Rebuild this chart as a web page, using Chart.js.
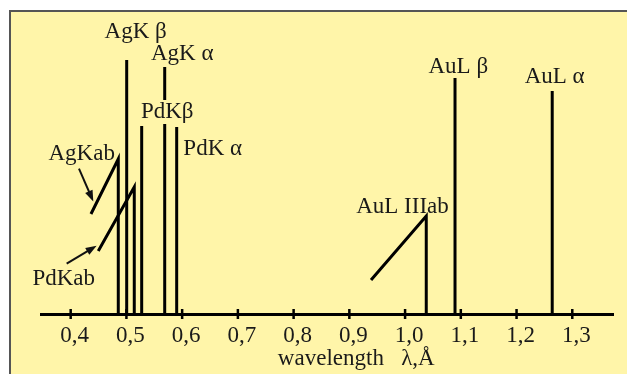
<!DOCTYPE html>
<html>
<head>
<meta charset="utf-8">
<script src="https://cdn.jsdelivr.net/npm/chart.js"></script>
<style>
  html, body { margin: 0; padding: 0; background: #fff5a9; overflow: hidden; }
  #wrap { width: 627px; height: 374px; }
  canvas { display: block; }
</style>
</head>
<body>
<div id="wrap"><canvas id="chart" width="627" height="374"></canvas></div>
<script>
// Emission lines: wavelength (Å) and relative height
const lineNames = ['AgK β', 'AgK α', 'PdKβ', 'PdK α', 'AuL β', 'AuL α'];
const lineWavelengths = [0.5005, 0.5687, 0.5274, 0.5902, 1.0896, 1.264];
const lineHeights = [254, 247, 188, 187, 236, 223];

// Absorption edges: edge position + height, and where the slanted tail ends
const edgeNames = ['AgKab', 'PdKab', 'AuL IIIab'];
const edgeWavelengths = [0.4854, 0.5141, 1.038];
const edgeHeights = [155, 127, 98];
const edgeTailWavelengths = [0.4364, 0.4495, 0.9389];
const edgeTailHeights = [100, 63, 34];

const tickValues = [0.4, 0.5, 0.6, 0.7, 0.8, 0.9, 1.0, 1.1, 1.2, 1.3];
const axisTitle = '          wavelength   λ,Å';

// label placement, pixel offsets from the top of each line
const labelStyle = {
  'AgK β': { dx: 9, dy: -28 },
  'AgK α': { dx: 17.5, dy: -13.5 },
  'PdKβ': { dx: 25.5, dy: -14, mask: true },
  'PdK α': { dx: 36, dy: 22 },
  'AuL β': { dx: 3.3, dy: -11.3 },
  'AuL α': { dx: 2.4, dy: -13.7 },
  'AgKab': { dx: -36.6, dy: -4.6, arrow: [-2.7, 14.3, 11.6, 47] },
  'PdKab': { dx: -70.5, dy: 92.4, arrow: [2.9, -15.7, 32.9, -33.7] },
  'AuL IIIab': { dx: -23.8, dy: -9.4 }
};

const FONT = "'Liberation Serif', 'Times New Roman', serif";
const SIZE = 23;
const TEXT = '#1a1a1a';
const BG = '#fff5a9';

const datasets = [];
lineNames.forEach((n, i) => {
  datasets.push({
    label: n,
    data: [{ x: lineWavelengths[i], y: 0 }, { x: lineWavelengths[i], y: lineHeights[i] }]
  });
});
edgeNames.forEach((n, i) => {
  datasets.push({
    label: n,
    data: [
      { x: edgeTailWavelengths[i], y: edgeTailHeights[i] },
      { x: edgeWavelengths[i], y: edgeHeights[i] },
      { x: edgeWavelengths[i], y: 0 }
    ]
  });
});

const frame = {
  id: 'frame',
  beforeDraw(chart) {
    const ctx = chart.ctx;
    ctx.save();
    ctx.fillStyle = '#fff';
    ctx.fillRect(0, 0, 627, 374);
    ctx.fillStyle = BG;
    ctx.fillRect(11, 12, 616, 362);
    ctx.strokeStyle = '#555';
    ctx.lineWidth = 2;
    ctx.beginPath();
    ctx.moveTo(9, 11); ctx.lineTo(627, 11);
    ctx.moveTo(10, 10); ctx.lineTo(10, 374);
    ctx.stroke();
    ctx.restore();
  },
  afterDraw(chart) {
    // keep the right edge plain yellow
    const ctx = chart.ctx;
    ctx.save();
    ctx.fillStyle = BG;
    ctx.fillRect(622, 12, 5, 362);
    ctx.restore();
  }
};

function arrow(ctx, x1, y1, x2, y2) {
  const a = Math.atan2(y2 - y1, x2 - x1);
  const L = 11, W = 4;
  ctx.beginPath();
  ctx.moveTo(x1, y1);
  ctx.lineTo(x2 - L * Math.cos(a) * 0.7, y2 - L * Math.sin(a) * 0.7);
  ctx.stroke();
  ctx.beginPath();
  ctx.moveTo(x2, y2);
  ctx.lineTo(x2 - L * Math.cos(a) + W * Math.sin(a), y2 - L * Math.sin(a) - W * Math.cos(a));
  ctx.lineTo(x2 - L * Math.cos(a) - W * Math.sin(a), y2 - L * Math.sin(a) + W * Math.cos(a));
  ctx.closePath();
  ctx.fill();
}

const labels = {
  id: 'labels',
  afterDatasetsDraw(chart) {
    const ctx = chart.ctx;
    const xs = chart.scales.x, ys = chart.scales.y;
    ctx.save();

    // tick marks crossing the axis
    ctx.strokeStyle = '#000';
    ctx.lineWidth = 2.5;
    xs.ticks.forEach(t => {
      const px = xs.getPixelForValue(t.value);
      ctx.beginPath();
      ctx.moveTo(px, ys.bottom - 5);
      ctx.lineTo(px, ys.bottom + 5);
      ctx.stroke();
    });

    ctx.font = SIZE + 'px ' + FONT;
    ctx.textAlign = 'center';
    ctx.textBaseline = 'middle';
    const put = (name, w, h) => {
      const s = labelStyle[name];
      const x = xs.getPixelForValue(w) + s.dx;
      const y = ys.getPixelForValue(h) + s.dy;
      if (s.mask) {
        const tw = ctx.measureText(name).width;
        ctx.fillStyle = BG;
        ctx.fillRect(x - tw / 2 - 1, y - 12, tw + 2, 24);
      }
      ctx.fillStyle = TEXT;
      ctx.fillText(name, x, y);
      if (s.arrow) {
        ctx.strokeStyle = '#111';
        ctx.fillStyle = '#111';
        ctx.lineWidth = 2;
        arrow(ctx, x + s.arrow[0], y + s.arrow[1], x + s.arrow[2], y + s.arrow[3]);
      }
    };
    lineNames.forEach((n, i) => put(n, lineWavelengths[i], lineHeights[i]));
    edgeNames.forEach((n, i) => put(n, edgeWavelengths[i], edgeHeights[i]));
    ctx.restore();
  }
};

new Chart(document.getElementById('chart'), {
  type: 'scatter',
  data: { datasets },
  options: {
    responsive: false,
    devicePixelRatio: 1,
    animation: false,
    layout: { padding: { left: 41.7, right: 13.7, top: 14, bottom: 14 } },
    elements: {
      point: { radius: 0, hoverRadius: 0 },
      line: { borderColor: '#000', borderWidth: 3, tension: 0, borderJoinStyle: 'miter', borderCapStyle: 'butt', fill: false }
    },
    datasets: { scatter: { showLine: true, borderColor: '#000' } },
    plugins: { legend: { display: false }, tooltip: { enabled: false } },
    scales: {
      x: {
        type: 'linear',
        min: 0.348,
        max: 1.3736,
        grid: { display: false, drawTicks: false },
        border: { display: true, color: '#000', width: 3 },
        afterBuildTicks: s => { s.ticks = tickValues.map(v => ({ value: v })); },
        ticks: {
          color: TEXT,
          padding: 11,
          labelOffset: 4,
          maxRotation: 0,
          autoSkip: false,
          font: { family: FONT, size: SIZE, lineHeight: '22px' },
          callback: v => v.toFixed(1).replace('.', ',')
        },
        title: {
          display: true,
          text: axisTitle,
          color: TEXT,
          padding: 0,
          font: { family: FONT, size: SIZE, lineHeight: '2px' }
        }
      },
      y: { display: false, min: 0, max: 300 }
    }
  },
  plugins: [frame, labels]
});
</script>
</body>
</html>
